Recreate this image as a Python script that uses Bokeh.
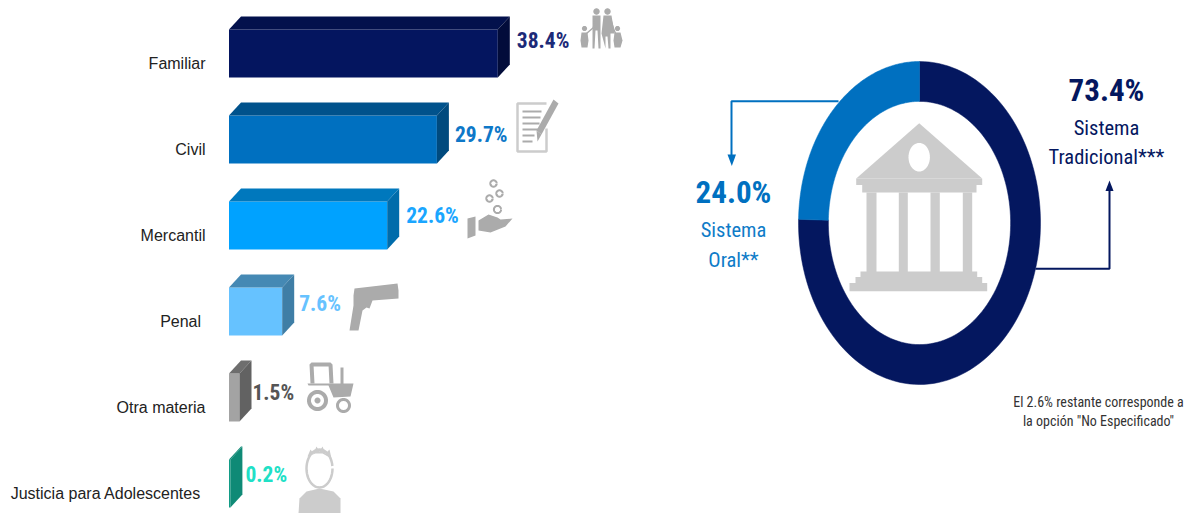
import numpy as np
from bokeh.plotting import figure
from bokeh.layouts import row
from bokeh.models import Range1d, FixedTicker
from bokeh.embed import file_html
from bokeh.resources import INLINE
from bokeh.core.properties import value

# ---- data ----
materias = ["Familiar", "Civil", "Mercantil", "Penal", "Otra materia", "Justicia para Adolescentes"]
porcentajes = [38.4, 29.7, 22.6, 7.6, 1.5, 0.2]
sistema_nombres = ["Sistema Tradicional", "Sistema Oral"]
sistema_valores = [73.4, 24.0]

# ---- style ----
front = ["#04155f", "#0070c0", "#00a2ff", "#66c2ff", "#a3a3a3", "#129c86"]
top = ["#03114c", "#00528c", "#0078bd", "#4589b4", "#6e6e6e", "#0f8a76"]
side = ["#020c3a", "#004a7e", "#006cab", "#3f7ea6", "#626262", "#0f8a76"]
lab_col = ["#1c2a78", "#0e78c8", "#1aa6ff", "#66c2ff", "#555555", "#20e0c6"]
label_gap = [7, 6, 7, 5, 1, 3]          # px after the 3D side
label_rise = [-13, -5, -10, -8, -5, -9]  # px relative to bar centre
NAVY = "#04175f"
BLUE = "#0070c0"
GREY = "#ababab"
LGREY = "#cccccc"
NARROW = "Roboto Condensed"

PAGE = 0
LEFT_W, RIGHT_W, H = 648, 545, 513
FRAME_L = 208
PX_PCT, PX_ROW = 7.0, 86.0
X0, Y0 = 228.5, 63.0   # page px of value 0 / first tick

# ---- left: 3D bars ----
xr = Range1d((FRAME_L - X0) / PX_PCT, (PAGE + LEFT_W - X0) / PX_PCT)
yr = Range1d((PAGE + H - Y0) / PX_ROW, (PAGE - Y0) / PX_ROW)
p = figure(width=LEFT_W, height=H, x_range=xr, y_range=yr, output_backend="svg", toolbar_location=None,
           min_border_left=FRAME_L - PAGE, min_border_right=0, min_border_top=0, min_border_bottom=0)
p.outline_line_color = None
p.grid.visible = False
p.xaxis.visible = False
yax = p.yaxis[0]
yax.ticker = FixedTicker(ticks=list(range(len(materias))))
over = {i: m for i, m in enumerate(materias)}
over[3] = "Penal\u00a0"
over[5] = "Justicia para Adolescentes\u00a0"
yax.major_label_overrides = over
yax.axis_line_color = None
yax.major_tick_line_color = None
yax.minor_tick_line_color = None
yax.major_tick_out = 0
yax.major_tick_in = 0
yax.major_label_text_font = "Liberation Sans"
yax.major_label_text_font_size = "16px"
yax.major_label_text_color = "#222222"
yax.major_label_standoff = 3

lx = lambda px: (np.asarray(px, float) - X0) / PX_PCT
ly = lambda py: (np.asarray(py, float) - Y0) / PX_ROW
DX, DY = 12 / PX_PCT, 13 / PX_ROW
BH = 48 / PX_ROW
CENTER = -10 / PX_ROW

idx = np.arange(len(materias)) + CENTER
vals = np.array(porcentajes)
p.quad(left=0, right=vals, top=idx - BH / 2, bottom=idx + BH / 2, fill_color=front, line_color=None)
p.patches([[0, v, v + DX, DX] for v in vals],
          [[c - BH / 2, c - BH / 2, c - BH / 2 - DY, c - BH / 2 - DY] for c in idx],
          fill_color=top, line_color=None)
p.patches([[v, v + DX, v + DX, v] for v in vals],
          [[c - BH / 2, c - BH / 2 - DY, c + BH / 2 - DY, c + BH / 2] for c in idx],
          fill_color=side, line_color=None)
p.text(x=vals + DX + np.array(label_gap) / PX_PCT, y=idx + np.array(label_rise) / PX_ROW,
       text=[f"{v:.1f}%" for v in porcentajes], text_color=lab_col, text_font=value(NARROW),
       text_font_style="bold", text_font_size="21.5px", text_align="left", text_baseline="middle")


def ell(cx, cy, rx, ry=None, n=48):
    ry = rx if ry is None else ry
    t = np.linspace(0, 2 * np.pi, n, endpoint=False)
    return list(cx + rx * np.cos(t)), list(cy + ry * np.sin(t))


def rect(x0, y0, x1, y1):
    return [x0, x1, x1, x0], [y0, y0, y1, y1]


def draw_fill(fig, tx, ty, shapes, color):
    fig.patches([list(tx(s[0])) for s in shapes], [list(ty(s[1])) for s in shapes],
                fill_color=color, line_color=None)


def draw_line(fig, tx, ty, lines, color, width):
    fig.multi_line([list(tx(s[0])) for s in lines], [list(ty(s[1])) for s in lines],
                   line_color=color, line_width=width)


# family icon
family = [ell(596, 11, 3.2), ell(607, 11, 3.2), ell(584, 28, 2.6), ell(617, 28, 2.6),
          ([592, 600, 600, 598, 597, 595, 594, 592], [15, 15, 48, 48, 30, 30, 48, 48]),
          ([603, 611, 614, 610, 610, 608, 607, 605, 605, 601], [15, 15, 33, 33, 48, 48, 36, 36, 48, 33]),
          ([581, 587, 588, 587, 586, 582, 581, 580], [32, 32, 40, 47, 47, 47, 47, 40]),
          ([614, 620, 622, 620, 619, 615, 614, 613], [32, 32, 40, 47, 47, 47, 47, 40])]
draw_fill(p, lx, ly, family, GREY)
draw_line(p, lx, ly, [([586, 593, 594], [33, 27, 18]), ([610, 613, 615], [18, 28, 33])], GREY, 1.5)

# document icon
draw_line(p, lx, ly, [([546, 517, 517, 546, 546], [103, 103, 151, 151, 128])], LGREY, 2.5)
draw_line(p, lx, ly, [([522, 541], [111, 111]), ([522, 540], [117, 117]), ([522, 539], [123, 123]),
                      ([522, 538], [129, 129]), ([522, 534], [135, 135]), ([522, 532], [141, 141])], GREY, 2)
draw_fill(p, lx, ly, [([553, 558, 541, 536], [99, 103, 134, 130]), ([536, 541, 537], [130, 134, 141])], GREY)

# hand and coins icon
draw_line(p, lx, ly, [ell(493, 183, 3.2), ell(499, 193, 3.2), ell(489, 198, 3.2), ell(497, 209, 3.6)], GREY, 2)
draw_fill(p, lx, ly, [([467, 475, 475, 467], [218, 216, 235, 238]),
                      ([478, 488, 497, 500, 512, 505, 490, 478], [220, 214, 217, 219, 218, 226, 232, 230])], GREY)

# pistol icon
draw_fill(p, lx, ly, [([354, 397, 398, 398, 372, 369, 366, 362, 358, 349, 353, 353],
                       [288, 283, 290, 298, 300, 308, 307, 310, 330, 330, 305, 295])], GREY)

# tractor icon
draw_fill(p, lx, ly, [([307, 353, 350, 333, 328, 308], [383, 383, 396, 397, 385, 385]),
                      ell(317, 400, 10.5), ell(343, 405, 7.5), rect(340, 367, 343, 384)], GREY)
draw_line(p, lx, ly, [([312, 311, 330, 331], [383, 364, 364, 383])], GREY, 4)
draw_fill(p, lx, ly, [ell(317, 400, 6.5), ell(343, 405, 4.5)], "#ffffff")
draw_fill(p, lx, ly, [ell(317, 400, 3)], GREY)

# adolescent icon
draw_line(p, lx, ly, [ell(319, 468, 13, 19)], LGREY, 2.5)
draw_fill(p, lx, ly, [([307, 310, 313, 316, 319, 322, 325, 329, 331, 322, 315],
                       [456, 449, 453, 446, 451, 446, 453, 449, 458, 453, 453]),
                      ([298, 299, 306, 319, 333, 340, 340, 298], [513, 498, 491, 488, 491, 498, 513, 513])], LGREY)

# ---- right: stretched ring ----
CX, CY, RX, RY = 919.0, 222.5, 121.0, 161.5
INNER = 0.753
OFF = PAGE + LEFT_W
x2 = Range1d((OFF - CX) / RX, (OFF + RIGHT_W - CX) / RX)
y2 = Range1d((CY - (PAGE + H)) / RY, (CY - PAGE) / RY)
q = figure(width=RIGHT_W, height=H, x_range=x2, y_range=y2, output_backend="svg", toolbar_location=None,
           min_border=0)
q.axis.visible = False
q.grid.visible = False
q.outline_line_color = None
rxf = lambda px: (np.asarray(px, float) - CX) / RX
ryf = lambda py: (CY - np.asarray(py, float)) / RY

total = sum(sistema_valores)
edges = np.concatenate([[0], np.cumsum(sistema_valores)]) / total * 2 * np.pi
ring_x, ring_y = [], []
for a0, a1 in zip(edges[:-1], edges[1:]):
    t = np.linspace(a0, a1, 120)
    ring_x.append(list(np.sin(t)) + list(INNER * np.sin(t[::-1])))
    ring_y.append(list(np.cos(t)) + list(INNER * np.cos(t[::-1])))
q.patches(ring_x, ring_y, fill_color=[NAVY, BLUE], line_color=[NAVY, BLUE], line_width=0.5)

# building icon
building = [([918.7, 855.7, 981.7], [122.7, 178, 178]), rect(855.7, 178, 981.7, 184.5),
            rect(861.7, 184, 976, 192), rect(866, 192, 876, 272), rect(898.3, 192, 907.3, 272),
            rect(930, 192, 939.3, 272), rect(962.3, 192, 971.7, 272), rect(860, 271, 976.7, 277),
            rect(855, 276.5, 981.7, 283), rect(849, 282.5, 986.7, 290.7)]
draw_fill(q, rxf, ryf, building, LGREY)
draw_fill(q, rxf, ryf, [ell(918.7, 156.7, 10.7, 14.3)], "#ffffff")

# connectors
draw_line(q, rxf, ryf, [([838, 731, 731], [100.7, 100.7, 156])], BLUE, 2)
draw_fill(q, rxf, ryf, [([727, 735.5, 731.3], [154, 154, 165.5])], BLUE)
draw_line(q, rxf, ryf, [([1035, 1109, 1109], [268.3, 268.3, 189])], NAVY, 2)
draw_fill(q, rxf, ryf, [([1105, 1113, 1109], [190.5, 190.5, 180])], NAVY)

# texts
tx_x = [1106, 1106, 1106, 733, 733, 733, 1098, 1098]
tx_y = [90, 127, 156, 192, 229, 259, 401, 420]
tx_s = [f"{sistema_valores[0]:.1f}%", "Sistema", "Tradicional***", f"{sistema_valores[1]:.1f}%", "Sistema", "Oral**",
        "El 2.6% restante corresponde a", "la opción \"No Especificado\""]
tx_c = [NAVY, NAVY, NAVY, BLUE, "#0f7cc8", "#0f7cc8", "#333333", "#333333"]
tx_z = ["31px", "20.5px", "20.5px", "31px", "20.5px", "20.5px", "14px", "14px"]
tx_b = ["bold", "normal", "normal", "bold", "normal", "normal", "normal", "normal"]
for i in range(len(tx_s)):
    q.text(x=[float(rxf(tx_x[i]))], y=[float(ryf(tx_y[i]))], text=[tx_s[i]], text_color=tx_c[i],
           text_font=value(NARROW), text_font_size=tx_z[i], text_font_style=tx_b[i],
           text_align="center", text_baseline="middle")

layout = row(p, q, spacing=0)
open("out.html", "w").write(file_html(layout, INLINE))
